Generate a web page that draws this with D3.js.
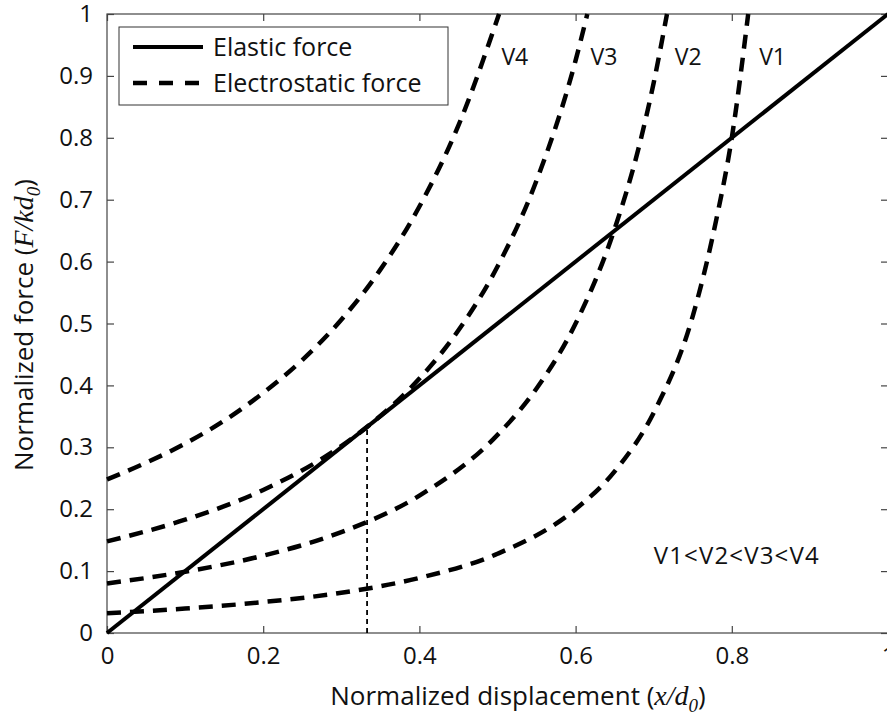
<!DOCTYPE html>
<html>
<head>
<meta charset="utf-8">
<script src="https://cdn.jsdelivr.net/npm/d3@7"></script>
<style>
body { margin: 0; background: #fff; }
text { font-family: "Open Sans", "Noto Sans", sans-serif; fill: #111; }
.it { font-family: "Liberation Serif", "DejaVu Serif", serif; font-style: italic; }
</style>
</head>
<body>
<svg width="887" height="719"></svg>
<script>
// tick values
var xTicks = [0, 0.2, 0.4, 0.6, 0.8, 1]
var yTicks = [0, 0.1, 0.2, 0.3, 0.4, 0.5, 0.6, 0.7, 0.8, 0.9, 1]

// elastic force (straight line)
var elasticX = [0, 1]
var elasticY = [0, 1]

// electrostatic force curves
var v1X = [0, 0.1, 0.2, 0.3, 0.4, 0.5, 0.6, 0.65, 0.7, 0.75, 0.78, 0.8, 0.821]
var v1Y = [0.032, 0.0395, 0.05, 0.065, 0.089, 0.128, 0.2, 0.261, 0.356, 0.512, 0.667, 0.8, 1.0]
var v2X = [0, 0.1, 0.2, 0.3, 0.4, 0.5, 0.55, 0.6, 0.65, 0.68, 0.7, 0.717]
var v2Y = [0.08, 0.099, 0.125, 0.163, 0.222, 0.32, 0.395, 0.5, 0.653, 0.78, 0.889, 1.0]
var v3X = [0, 0.1, 0.2, 0.3, 0.333, 0.4, 0.45, 0.5, 0.55, 0.6, 0.615]
var v3Y = [0.148, 0.183, 0.231, 0.302, 0.333, 0.411, 0.489, 0.592, 0.731, 0.925, 1.0]
var v4X = [0, 0.05, 0.1, 0.15, 0.2, 0.25, 0.3, 0.35, 0.4, 0.45, 0.502]
var v4Y = [0.248, 0.275, 0.306, 0.343, 0.388, 0.441, 0.506, 0.587, 0.689, 0.82, 1.0]
var curveNames = ['V1', 'V2', 'V3', 'V4']

// pull-in point marker
var pullX = [0.333, 0.333]
var pullY = [0, 0.333]

var svg = d3.select('svg')
var pl = 107, pr = 888, pt = 14, pb = 633

var x = d3.scaleLinear().domain([0, 1]).range([pl, pr])
var y = d3.scaleLinear().domain([0, 1]).range([pb, pt])

var line = d3.line()
    .x(function(d) { return x(d[0]) })
    .y(function(d) { return y(d[1]) })
    .curve(d3.curveMonotoneX)

function pts(xs, ys) { return xs.map(function(v, i) { return [v, ys[i]] }) }

// frame
svg.append('rect')
    .attr('x', pl).attr('y', pt)
    .attr('width', pr - pl).attr('height', pb - pt)
    .attr('fill', 'none').attr('stroke', '#444').attr('stroke-width', 1.2)

// axes with inward ticks on all four sides
svg.append('g').attr('transform', 'translate(0,' + pb + ')')
    .call(d3.axisBottom(x).tickValues(xTicks).tickSize(-7).tickPadding(14).tickFormat(d3.format('')))
svg.append('g').attr('transform', 'translate(0,' + pt + ')')
    .call(d3.axisTop(x).tickValues(xTicks).tickSize(-7).tickFormat(''))
svg.append('g').attr('transform', 'translate(' + pl + ',0)')
    .call(d3.axisLeft(y).tickValues(yTicks).tickSize(-7).tickPadding(14).tickFormat(d3.format('')))
svg.append('g').attr('transform', 'translate(' + pr + ',0)')
    .call(d3.axisRight(y).tickValues(yTicks).tickSize(-7).tickFormat(''))

svg.selectAll('.domain').remove()
svg.selectAll('.tick line').attr('stroke', '#444').attr('stroke-width', 1.2)
svg.selectAll('.tick text')
    .attr('font-size', 24)
    .attr('font-family', '"Open Sans", sans-serif')
    .attr('fill', '#111')

var plot = svg.append('g')

// pull-in dotted line
plot.append('path')
    .attr('d', line(pts(pullX, pullY)))
    .attr('fill', 'none').attr('stroke', '#000')
    .attr('stroke-width', 1.8).attr('stroke-dasharray', '5,4')

var curves = [pts(v1X, v1Y), pts(v2X, v2Y), pts(v3X, v3Y), pts(v4X, v4Y)]
plot.selectAll('.es').data(curves).enter().append('path')
    .attr('class', 'es')
    .attr('d', line)
    .attr('fill', 'none').attr('stroke', '#000')
    .attr('stroke-width', 4.5).attr('stroke-dasharray', '14,9')

plot.append('path')
    .attr('d', d3.line().x(function(d) { return x(d[0]) }).y(function(d) { return y(d[1]) })(pts(elasticX, elasticY)))
    .attr('fill', 'none').attr('stroke', '#000').attr('stroke-width', 4)

// curve labels
var labelX = [0.835, 0.727, 0.619, 0.505]
svg.selectAll('.vl').data(curveNames).enter().append('text')
    .attr('class', 'vl')
    .attr('x', function(d, i) { return x(labelX[i]) })
    .attr('y', y(0.918))
    .attr('font-size', 23)
    .text(function(d) { return d })

svg.append('text')
    .attr('x', x(0.7)).attr('y', y(0.111))
    .attr('font-size', 24)
    .attr('textLength', 165)
    .text('V1<V2<V3<V4')

// legend
var lg = svg.append('g')
lg.append('rect')
    .attr('x', 119).attr('y', 27).attr('width', 329).attr('height', 78)
    .attr('fill', '#fff').attr('stroke', '#333').attr('stroke-width', 1)
lg.append('line').attr('x1', 133).attr('x2', 203).attr('y1', 47).attr('y2', 47)
    .attr('stroke', '#000').attr('stroke-width', 4)
lg.append('line').attr('x1', 133).attr('x2', 203).attr('y1', 83).attr('y2', 83)
    .attr('stroke', '#000').attr('stroke-width', 4.5).attr('stroke-dasharray', '14,12')
lg.append('text').attr('x', 213).attr('y', 56).attr('font-size', 25).text('Elastic force')
lg.append('text').attr('x', 213).attr('y', 92).attr('font-size', 25).text('Electrostatic force')

// axis titles
var xl = svg.append('text')
    .attr('x', 518).attr('y', 705)
    .attr('text-anchor', 'middle')
    .attr('font-size', 26)
xl.append('tspan').text('Normalized displacement (')
xl.append('tspan').attr('class', 'it').attr('font-size', 28).text('x/d')
xl.append('tspan').attr('class', 'it').attr('font-size', 19).attr('dy', 7).text('0')
xl.append('tspan').attr('dy', -7).text(')')

var yl = svg.append('text')
    .attr('transform', 'translate(33,325) rotate(-90)')
    .attr('text-anchor', 'middle')
    .attr('font-size', 26)
yl.append('tspan').text('Normalized force (')
yl.append('tspan').attr('class', 'it').attr('font-size', 28).text('F/kd')
yl.append('tspan').attr('class', 'it').attr('font-size', 19).attr('dy', 7).text('0')
yl.append('tspan').attr('dy', -7).text(')')
</script>
</body>
</html>
